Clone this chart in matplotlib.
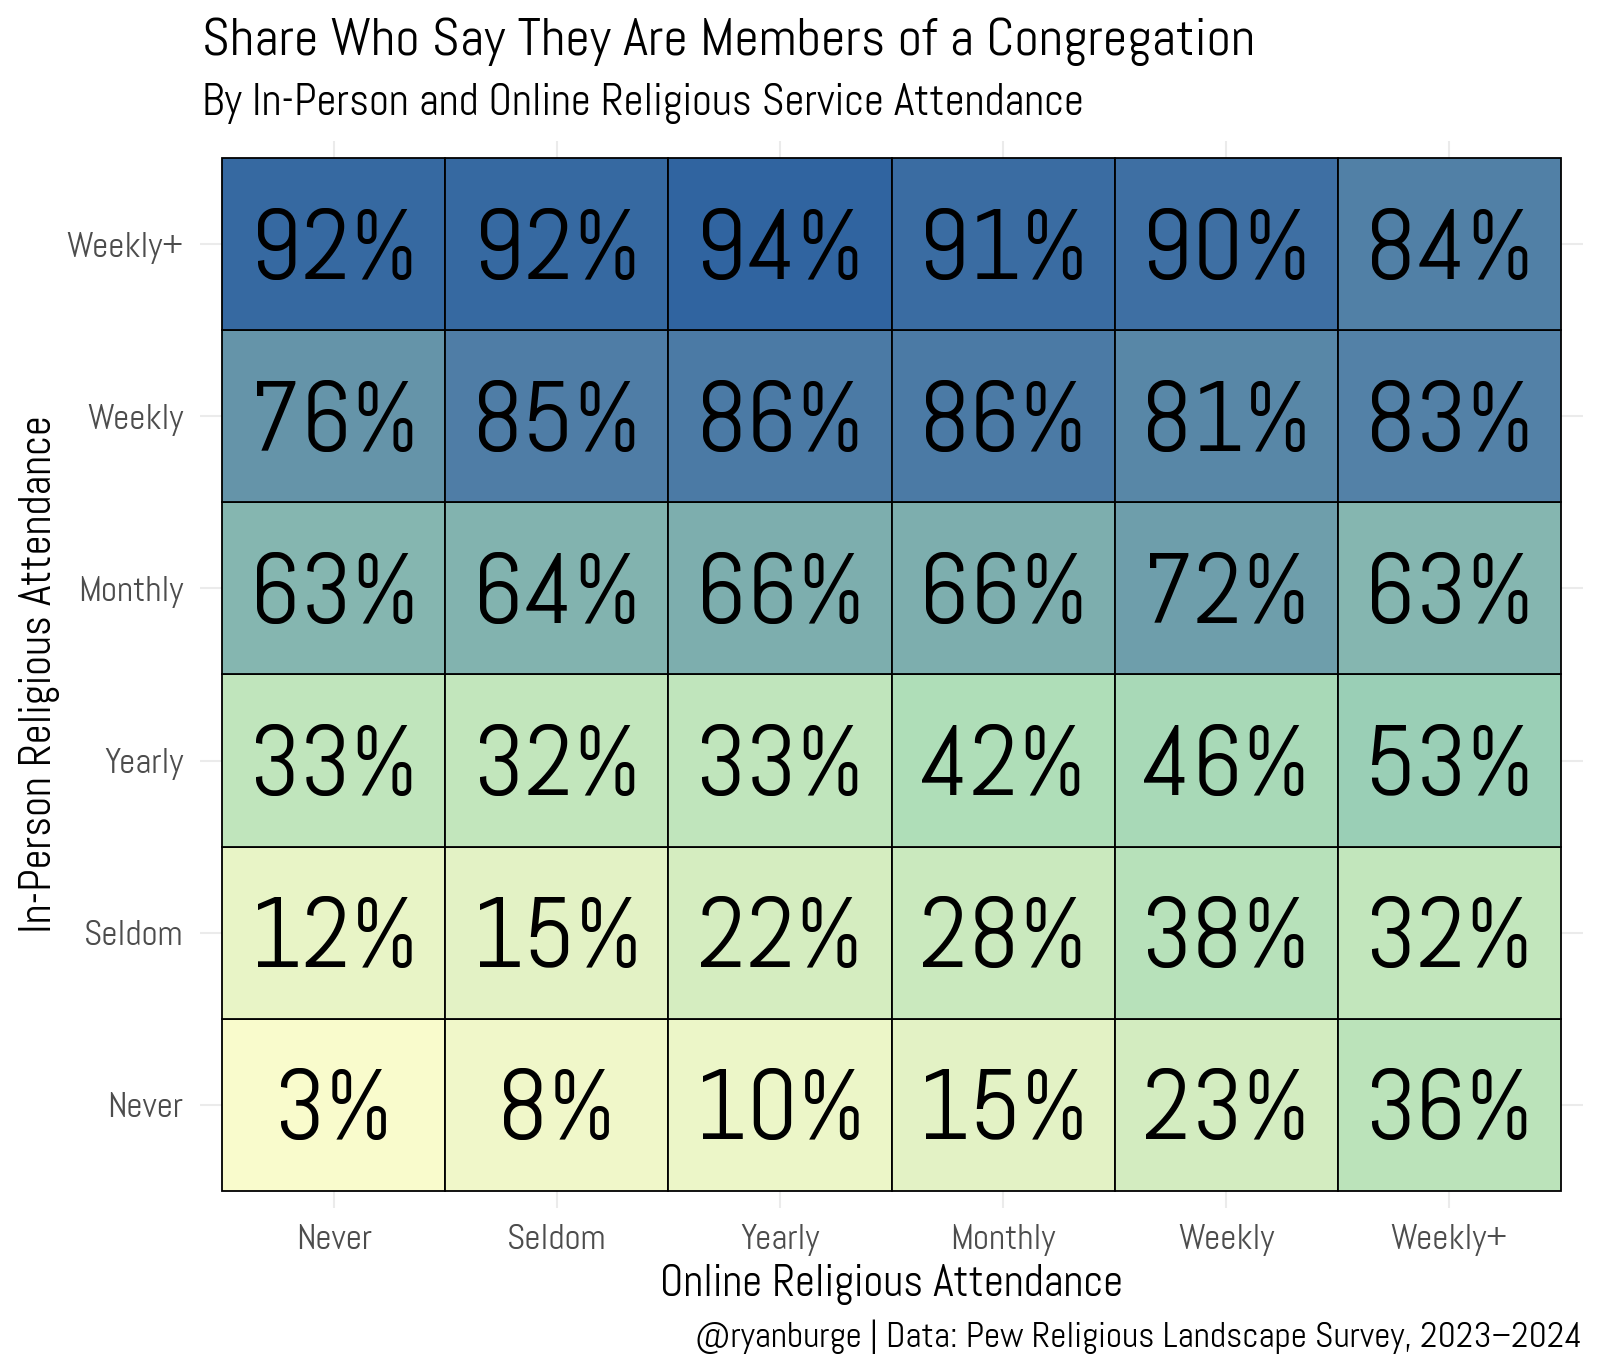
import matplotlib
matplotlib.use('Agg')
import matplotlib.pyplot as plt
from matplotlib.colors import LinearSegmentedColormap, Normalize
import numpy as np

plt.rcParams['font.family'] = ['Abel', 'DejaVu Sans']

# %% data
online = ['Never', 'Seldom', 'Yearly', 'Monthly', 'Weekly', 'Weekly+']
inperson = ['Never', 'Seldom', 'Yearly', 'Monthly', 'Weekly', 'Weekly+']

# rows = in-person (Never ... Weekly+), cols = online (Never ... Weekly+)
share_never = [3, 8, 10, 15, 23, 36]
share_seldom = [12, 15, 22, 28, 38, 32]
share_yearly = [33, 32, 33, 42, 46, 53]
share_monthly = [63, 64, 66, 66, 72, 63]
share_weekly = [76, 85, 86, 86, 81, 83]
share_weeklyplus = [92, 92, 94, 91, 90, 84]

vals = np.array([share_never, share_seldom, share_yearly,
                 share_monthly, share_weekly, share_weeklyplus]) / 100.0

# colour ramp
stops = [(0.03, '#f9fbcc'), (0.22, '#d5edc0'), (0.42, '#afdeb8'),
         (0.53, '#9acfb6'), (0.63, '#85b6b0'), (0.72, '#6f9fab'),
         (0.85, '#4f7da6'), (0.94, '#3064a0')]
lo, hi = stops[0][0], stops[-1][0]
cmap = LinearSegmentedColormap.from_list(
    'cong', [((v - lo) / (hi - lo), c) for v, c in stops])
norm = Normalize(lo, hi)

# %% plot
W, H = 1600, 1371
fig = plt.figure(figsize=(W / 100, H / 100), dpi=100)
ax = fig.add_axes([200 / W, 1 - 1208 / H, 1383 / W, 1067 / H])

for i in range(len(inperson)):
    for j in range(len(online)):
        v = vals[i, j]
        ax.add_patch(plt.Rectangle((j - 0.5, i - 0.5), 1, 1,
                                   facecolor=cmap(norm(v)),
                                   edgecolor='black', linewidth=1.3, zorder=2))
        # baseline placed so the digits sit centred in the tile
        ax.text(j, i - 0.2, '{:.0f}%'.format(v * 100), ha='center', va='baseline',
                fontsize=72, color='black', zorder=3)

ax.set_xlim(-0.6, len(online) - 0.4)
ax.set_ylim(-0.6, len(inperson) - 0.4)
ax.set_xticks(range(len(online)))
ax.set_xticklabels(online)
ax.set_yticks(range(len(inperson)))
ax.set_yticklabels(inperson)
ax.grid(True, color='#ebebeb', linewidth=1.5, zorder=0)
ax.set_axisbelow(True)
for s in ax.spines.values():
    s.set_visible(False)
ax.tick_params(length=0, labelsize=25.5, labelcolor='#4d4d4d')
ax.tick_params(axis='x', pad=11.5)
ax.tick_params(axis='y', pad=12)

ax.set_xlabel('Online Religious Attendance', fontsize=31.5, labelpad=5.5)
ax.set_ylabel('In-Person Religious Attendance', fontsize=31.5, labelpad=5)

fig.text(202 / W, 1 - 55 / H, 'Share Who Say They Are Members of a Congregation',
         fontsize=38.5, ha='left', va='baseline')
fig.text(202 / W, 1 - 115 / H, 'By In-Person and Online Religious Service Attendance',
         fontsize=31.5, ha='left', va='baseline')
fig.text(1582 / W, 1 - 1337 / H,
         '@ryanburge | Data: Pew Religious Landscape Survey, 2023\u20132024',
         fontsize=25.6, ha='right', va='center')

fig.savefig('out.png', dpi=100)
